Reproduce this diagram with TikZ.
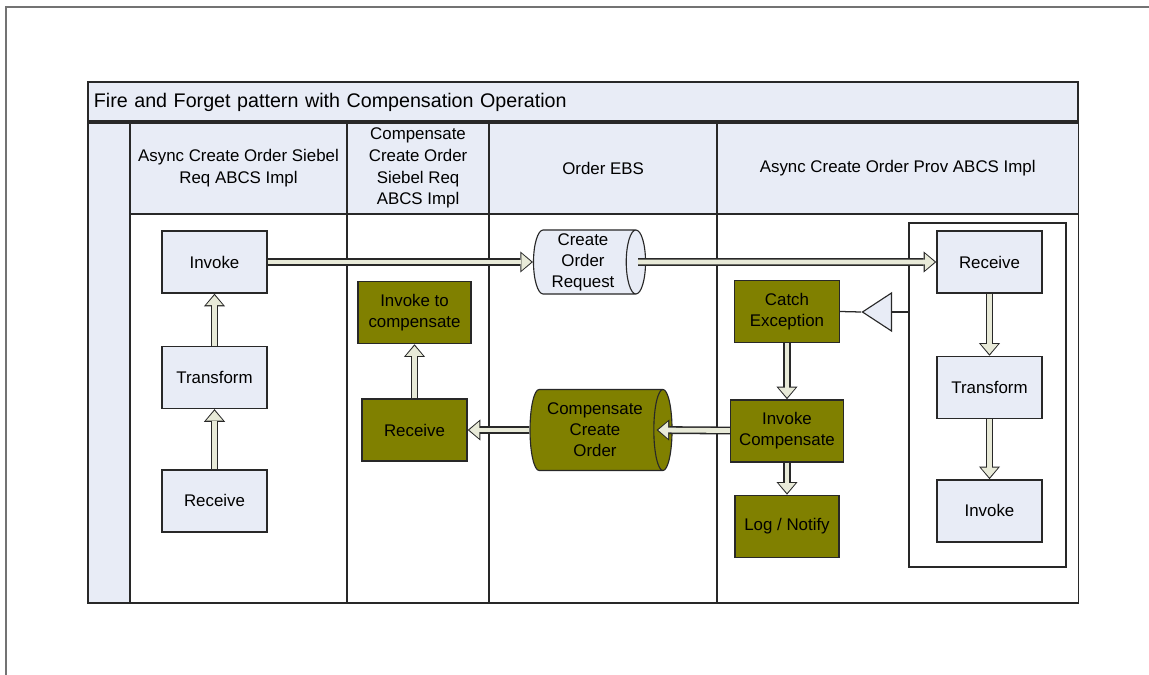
\documentclass[tikz,border=0pt]{standalone}
\usepackage{fontspec}
\setmainfont{Liberation Sans}
\usetikzlibrary{arrows.meta, positioning, calc, shapes.geometric}

\definecolor{laneblue}{RGB}{232,236,246}
\definecolor{olivebox}{RGB}{128,128,0}
\definecolor{flowfill}{RGB}{232,234,216}
\definecolor{edgegray}{RGB}{40,40,40}

\begin{document}
\begin{tikzpicture}[
    x=0.025cm, y=-0.025cm,
    % Lane styles
    titlebar/.style={
        rectangle, minimum width=24.75cm, minimum height=1cm,
        text width=24.45cm, inner xsep=0.15cm, align=left,
        font=\fontsize{14}{17}\selectfont,
        draw=edgegray, line width=1pt, fill=laneblue, outer sep=0pt,
    },
    strip/.style={
        rectangle, minimum width=1.05cm, minimum height=12.025cm,
        draw=edgegray, line width=1pt, fill=laneblue, outer sep=0pt,
    },
    header/.style={
        rectangle, minimum width=#1, minimum height=2.3cm,
        inner sep=2pt, align=center, font=\fontsize{12}{15.5}\selectfont,
        draw=edgegray, line width=1pt, fill=laneblue, outer sep=0pt,
    },
    lane/.style={
        rectangle, minimum width=#1, minimum height=9.725cm,
        draw=edgegray, line width=1pt, fill=white, outer sep=0pt,
    },
    scopebox/.style={
        rectangle, minimum width=3.925cm, minimum height=8.6cm,
        draw=edgegray, line width=1pt, fill=white,
    },
    % Node styles
    task/.style={
        rectangle, minimum width=2.625cm, minimum height=1.55cm,
        align=center, font=\fontsize{12}{15}\selectfont,
        draw=edgegray, line width=1pt, fill=#1,
    },
    task/.default=laneblue,
    store/.style={
        cylinder, aspect=0.32, align=center, inner sep=1pt,
        font=\fontsize{12}{15}\selectfont,
        draw=edgegray, line width=0.8pt, fill=#1,
    },
    store/.default=laneblue,
    handler/.style={
        isosceles triangle, isosceles triangle stretches,
        shape border rotate=180, minimum width=0.95cm, minimum height=0.725cm,
        inner sep=0pt, draw=edgegray, line width=0.8pt, fill=laneblue,
    },
    % Connector styles
    link/.style={draw=edgegray, line width=0.9pt},
    flow/.style={
        draw=edgegray, line width=5.6pt,
        -{Triangle[length=9pt, width=15pt, line width=0pt]},
        postaction={draw=flowfill, line width=3.4pt,
            -{Triangle[length=7pt, width=12pt, line width=0pt]},
            shorten >=1.2pt},
    },
    pageline/.style={draw=black!55, line width=1.2pt},
]
\useasboundingbox (0,0) rectangle (1149,675);

% === Page border ===
\draw[pageline] (1149,7) -- (6,7) -- (6,675);

% === Pool frame ===
\node[titlebar] (title) at (583,102) {Fire and Forget pattern with Compensation Operation};
\node[strip] (strip) at (109,362.5) {};

% === Lane headers ===
\node[header=5.425cm] (hdsiebel) at (238.5,168) {Async Create Order Siebel\\Req ABCS Impl};
\node[header=3.55cm]  (hdcomp) [right=0pt of hdsiebel] {Compensate\\Create Order\\Siebel Req\\ABCS Impl};
\node[header=5.7cm]   (hdebs)  [right=0pt of hdcomp]   {Order EBS};
\node[header=9.025cm] (hdprov) [right=0pt of hdebs]    {Async Create Order Prov ABCS Impl};
\draw[edgegray, line width=2.2pt] (title.south west) -- (title.south east);

% === Lane bodies ===
\node[lane=5.425cm] (lnsiebel) [below=0pt of hdsiebel] {};
\node[lane=3.55cm]  (lncomp)   [below=0pt of hdcomp]   {};
\node[lane=5.7cm]   (lnebs)    [below=0pt of hdebs]    {};
\node[lane=9.025cm] (lnprov)   [below=0pt of hdprov]   {};

% === Siebel requester ===
\node[task] (invsiebel) at (214.5,262) {Invoke};
\node[task] (trsiebel)  [below=1.3cm of invsiebel] {Transform};
\node[task] (rcvsiebel) [below=1.5cm of trsiebel]  {Receive};

% === Compensation requester ===
\node[task=olivebox] (rcvcomp) at (414.5,430) {Receive};
\node[task=olivebox, minimum width=2.825cm] (invcomp) [above=1.35cm of rcvcomp] {Invoke to\\compensate};

% === Order EBS ===
% cylinder: minimum height runs along its axis
\node[store, minimum height=2.8cm, minimum width=1.6cm] (creq) at (583,262) {Create\\Order\\Request};
\node[store=olivebox, minimum height=3.55cm, minimum width=2.025cm] (ccreate) at (595,430) {Compensate\\Create\\Order};

% === Provider ===
\node[scopebox] (provscope) at (987.5,395) {};
\node[task] (rcvprov) at (989.5,262) {Receive};
\node[task] (trprov)  [below=1.55cm of rcvprov] {Transform};
\node[task] (invprov) [below=1.5cm of trprov]   {Invoke};
\node[handler, anchor=apex] (trig) at (861,312) {};
\node[task=olivebox] (catch) at (787,311.5) {Catch\\Exception};
\node[task=olivebox, minimum width=2.825cm] (invcmp) [below=1.4cm of catch] {Invoke\\Compensate};
\node[task=olivebox, minimum width=2.6cm] (lognotify) [below=0.8cm of invcmp] {Log / Notify};

% === Fault link ===
\draw[link] (catch.east) -- (trig.apex);
\draw[link] (trig.lower side) -- (trig.lower side -| provscope.west);

% === Flows ===
\draw[flow] (rcvsiebel) -- (trsiebel);
\draw[flow] (trsiebel) -- (invsiebel);
\draw[flow] (invsiebel) -- (creq);
\draw[flow] ($(creq.east)+(-8,0)$) -- (rcvprov);
\draw[flow] (rcvprov) -- (trprov);
\draw[flow] (trprov) -- (invprov);
\draw[flow] (catch.south) -- (catch.south |- invcmp.north);
\draw[flow] (invcmp.south) -- (invcmp.south |- lognotify.north);
\draw[flow] (invcmp) -- ($(ccreate.east)+(-16,0)$);
\draw[flow] (ccreate) -- (rcvcomp);
\draw[flow] (rcvcomp) -- (invcomp);

\end{tikzpicture}
\end{document}
